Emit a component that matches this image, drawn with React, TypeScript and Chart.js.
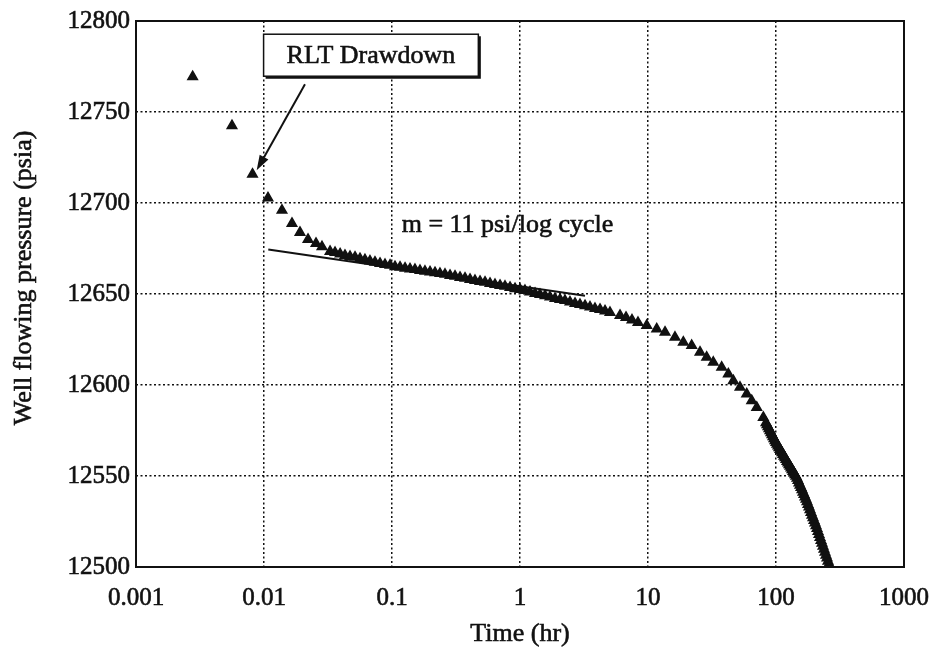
import { useEffect, useRef } from "react";
import { Chart, registerables } from "chart.js";

Chart.register(...registerables);

// Bottom-hole pressure during the RLT drawdown (semi-log plot)
const timeHr = [
  0.00277, 0.00562, 0.00813, 0.01074, 0.01382, 0.01654, 0.0191, 0.02207, 0.02548, 0.02839,
  0.0328, 0.0359, 0.0393, 0.0429, 0.047, 0.0514, 0.0562, 0.0615, 0.0673, 0.0736,
  0.0806, 0.0882, 0.0965, 0.1055, 0.1155, 0.1264, 0.1382, 0.1512, 0.1655, 0.181,
  0.1981, 0.2167, 0.2371, 0.2595, 0.2839, 0.3106, 0.3398, 0.3718, 0.4068, 0.4451,
  0.487, 0.5329, 0.583, 0.6379, 0.698, 0.7637, 0.8356, 0.9141, 1.0, 1.094,
  1.197, 1.31, 1.433, 1.568, 1.715, 1.877, 2.053, 2.247, 2.458, 2.69,
  2.943, 3.22, 3.523, 3.854, 4.217, 4.614, 5.048,
  6.043, 6.731, 7.499, 8.354,
  9.768, 11.69, 13.58, 16.25, 18.87, 21.95, 25.48, 28.74, 32.37, 37.65,
  42.4, 46.39, 52.33, 59.03, 64.58, 70.68, 79.58,
  83.53, 85.05, 86.6, 88.17, 89.77, 91.41, 93.06, 94.75, 96.47, 98.22,
  100.0, 101.8, 103.7, 105.5, 107.5, 109.4, 111.4, 113.4, 115.5, 117.6,
  119.7, 121.9, 124.1, 126.4, 128.7, 131.0, 133.4, 135.8, 138.3, 140.8,
  143.3, 145.9, 148.6, 151.2, 154.0, 156.8, 159.7, 162.5, 165.5, 168.5,
  171.6, 174.7, 177.8, 181.1, 184.4, 187.7, 191.1, 194.6, 198.1, 201.7,
  205.4, 209.1, 212.9, 216.8, 220.7, 224.7, 228.8, 232.9, 237.1, 241.5,
  245.8, 250.3, 254.8, 259.5, 264.2,
];

const pressurePsia = [
  12769.4, 12742.5, 12715.8, 12702.8, 12696.0, 12688.8, 12683.8, 12680.0, 12677.8, 12675.9,
  12673.4, 12672.8, 12672.0, 12671.2, 12670.6, 12670.2, 12669.4, 12668.8, 12668.1, 12667.5,
  12666.8, 12666.2, 12665.8, 12665.0, 12664.7, 12664.2, 12663.8, 12663.4, 12662.9, 12662.5,
  12662.1, 12661.7, 12661.2, 12660.8, 12660.2, 12659.8, 12659.1, 12658.7, 12658.0, 12657.4,
  12656.9, 12656.5, 12655.8, 12655.2, 12654.7, 12654.2, 12653.6, 12652.9, 12652.5, 12651.9,
  12651.1, 12650.3, 12649.7, 12649.1, 12648.3, 12647.5, 12647.0, 12646.4, 12645.6, 12644.8,
  12644.2, 12643.6, 12642.8, 12642.0, 12641.5, 12640.7, 12639.8,
  12638.2, 12637.1, 12635.7, 12634.3,
  12632.7, 12630.8, 12629.0, 12626.2, 12623.5, 12621.7, 12618.0, 12615.2, 12612.5, 12609.7,
  12606.1, 12602.4, 12598.7, 12595.1, 12591.4, 12587.7, 12582.2,
  12579.2, 12578.1, 12577.0, 12575.9, 12574.8, 12573.7, 12572.6, 12571.5, 12570.4, 12569.4,
  12568.4, 12567.5, 12566.5, 12565.5, 12564.6, 12563.7, 12562.8, 12561.8, 12560.9, 12560.0,
  12559.0, 12558.0, 12557.1, 12556.2, 12555.3, 12554.4, 12553.5, 12552.5, 12551.6, 12550.7,
  12549.8, 12548.7, 12547.5, 12546.2, 12544.9, 12543.7, 12542.4, 12541.1, 12539.8, 12538.5,
  12537.2, 12535.8, 12534.4, 12533.0, 12531.5, 12530.0, 12528.5, 12527.1, 12525.6, 12524.2,
  12522.7, 12521.1, 12519.5, 12517.9, 12516.2, 12514.6, 12513.0, 12511.4, 12509.7, 12508.1,
  12506.5, 12504.9, 12503.2, 12501.6, 12500.0,
];

// Semi-log straight line through the middle-time region
const fitTimeHr = [0.0108, 3.22];
const fitPressurePsia = [12674.5, 12649.0];

const xTickValues = [0.001, 0.01, 0.1, 1, 10, 100, 1000];
const xTickLabels = ["0.001", "0.01", "0.1", "1", "10", "100", "1000"];
const yMin = 12500;
const yMax = 12800;
const yStep = 50;

const xTitle = "Time (hr)";
const yTitle = "Well flowing pressure (psia)";
const calloutText = "RLT Drawdown";
const slopeText = "m = 11 psi/log cycle";

// Annotation anchors, in data units
const calloutCenter = { t: 0.0685, p: 12781.2 };
const arrowTail = { t: 0.0209, p: 12765.3 };
const arrowTip = { t: 0.00877, p: 12718.0 };
const slopeTextAnchor = { t: 0.119, p: 12687.7 };

const INK = "#111";
const FAMILY = '"Liberation Serif", "Times New Roman", serif';

function inkText(ctx: CanvasRenderingContext2D, text: string, x: number, y: number) {
  ctx.fillText(text, x, y);
  ctx.strokeText(text, x, y);
}

const decorations = {
  id: "decorations",
  afterDraw(chart: any) {
    const { ctx, chartArea, scales } = chart;
    const xs = scales.x;
    const ys = scales.y;
    ctx.save();

    // plot frame
    ctx.strokeStyle = INK;
    ctx.lineWidth = 2;
    ctx.strokeRect(chartArea.left, chartArea.top, chartArea.right - chartArea.left, chartArea.bottom - chartArea.top);

    ctx.fillStyle = INK;
    ctx.font = `26px ${FAMILY}`;
    ctx.lineWidth = 0.6;

    // axis titles
    ctx.textAlign = "center";
    ctx.textBaseline = "middle";
    inkText(ctx, xTitle, (chartArea.left + chartArea.right) / 2, chartArea.bottom + 67);
    ctx.save();
    ctx.translate(chartArea.left - 112, (chartArea.top + chartArea.bottom) / 2 - 16);
    ctx.rotate(-Math.PI / 2);
    inkText(ctx, yTitle, 0, 0);
    ctx.restore();

    // slope label
    ctx.textAlign = "left";
    inkText(ctx, slopeText, xs.getPixelForValue(slopeTextAnchor.t), ys.getPixelForValue(slopeTextAnchor.p));

    // arrow to the early-time data
    const tx = xs.getPixelForValue(arrowTail.t);
    const ty = ys.getPixelForValue(arrowTail.p);
    const hx = xs.getPixelForValue(arrowTip.t);
    const hy = ys.getPixelForValue(arrowTip.p);
    const ang = Math.atan2(hy - ty, hx - tx);
    const headLen = 15;
    const headHalf = 5;
    const bx = hx - headLen * Math.cos(ang);
    const by = hy - headLen * Math.sin(ang);
    ctx.lineWidth = 2;
    ctx.beginPath();
    ctx.moveTo(tx, ty);
    ctx.lineTo(bx, by);
    ctx.stroke();
    ctx.beginPath();
    ctx.moveTo(hx, hy);
    ctx.lineTo(bx + headHalf * Math.sin(ang), by - headHalf * Math.cos(ang));
    ctx.lineTo(bx - headHalf * Math.sin(ang), by + headHalf * Math.cos(ang));
    ctx.closePath();
    ctx.fill();

    // callout box
    const cx = xs.getPixelForValue(calloutCenter.t);
    const cy = ys.getPixelForValue(calloutCenter.p);
    const tw = ctx.measureText(calloutText).width;
    const bw = tw + 46;
    const bh = 42;
    const left = cx - bw / 2;
    const top = cy - bh / 2;
    ctx.fillStyle = "#fff";
    ctx.fillRect(left, top, bw, bh);
    ctx.strokeStyle = INK;
    ctx.lineWidth = 1.5;
    ctx.strokeRect(left, top, bw, bh);
    ctx.lineWidth = 2;
    ctx.beginPath();
    ctx.moveTo(left + 2, top + bh + 1.5);
    ctx.lineTo(left + bw + 1.5, top + bh + 1.5);
    ctx.lineTo(left + bw + 1.5, top + 2);
    ctx.stroke();
    ctx.fillStyle = INK;
    ctx.textAlign = "center";
    ctx.lineWidth = 0.6;
    inkText(ctx, calloutText, cx, cy + 1);

    ctx.restore();
  },
};

export default function App() {
  const canvasRef = useRef<HTMLCanvasElement | null>(null);

  useEffect(() => {
    const canvas = canvasRef.current;
    if (!canvas) return;
    const tickFont = { family: FAMILY, size: 25 };
    const chart = new Chart(canvas, {
      type: "scatter",
      data: {
        datasets: [
          {
            label: "semi-log line",
            data: fitTimeHr.map((t, i) => ({ x: t, y: fitPressurePsia[i] })),
            showLine: true,
            borderColor: INK,
            borderWidth: 2,
            pointRadius: 0,
            order: 2,
          },
          {
            label: "RLT Drawdown",
            data: timeHr.map((t, i) => ({ x: t, y: pressurePsia[i] })),
            pointStyle: "triangle",
            pointRadius: 5.5,
            backgroundColor: INK,
            borderColor: INK,
            borderWidth: 1.5,
            order: 1,
          },
        ],
      },
      options: {
        animation: false,
        responsive: false,
        events: [],
        layout: { padding: { top: 21, right: 32, left: 0, bottom: 0 } },
        plugins: {
          legend: { display: false },
          tooltip: { enabled: false },
        },
        scales: {
          x: {
            type: "logarithmic",
            min: 0.001,
            max: 1000,
            afterBuildTicks: (scale: any) => {
              scale.ticks = xTickValues.map((v) => ({ value: v }));
            },
            afterFit: (scale: any) => {
              scale.height = 80;
              scale.paddingLeft = 0;
              scale.paddingRight = 0;
            },
            ticks: {
              autoSkip: false,
              maxRotation: 0,
              padding: 16,
              color: INK,
              font: tickFont,
              textStrokeColor: INK,
              textStrokeWidth: 0.6,
              callback: (value: any) => {
                const i = xTickValues.indexOf(Number(value));
                return i >= 0 ? xTickLabels[i] : "";
              },
            },
            grid: { color: INK, lineWidth: 1.5, drawTicks: false },
            border: { display: false, dash: [2, 2.5] },
          },
          y: {
            min: yMin,
            max: yMax,
            afterFit: (scale: any) => {
              scale.width = 136;
              scale.paddingTop = 0;
              scale.paddingBottom = 0;
            },
            ticks: {
              stepSize: yStep,
              padding: 6,
              color: INK,
              font: tickFont,
              textStrokeColor: INK,
              textStrokeWidth: 0.6,
              callback: (value: any) => String(value),
            },
            grid: { color: INK, lineWidth: 1.5, drawTicks: false },
            border: { display: false, dash: [2, 2.5] },
          },
        },
      },
      plugins: [decorations],
    });
    return () => chart.destroy();
  }, []);

  return (
    <div style={{ position: "fixed", left: 0, top: 0, width: 936, height: 647, background: "#fff" }}>
      <canvas ref={canvasRef} width={936} height={647} />
    </div>
  );
}
